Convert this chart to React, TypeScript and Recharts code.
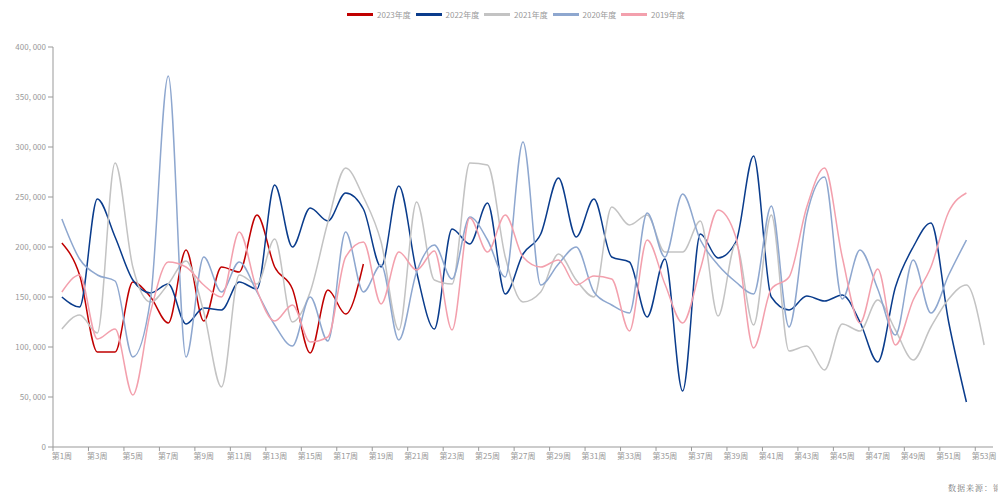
import { LineChart, Line, XAxis, YAxis, Legend } from "recharts";

const weeks = [
  "第1周", "第2周", "第3周", "第4周", "第5周", "第6周", "第7周", "第8周", "第9周", "第10周",
  "第11周", "第12周", "第13周", "第14周", "第15周", "第16周", "第17周", "第18周", "第19周", "第20周",
  "第21周", "第22周", "第23周", "第24周", "第25周", "第26周", "第27周", "第28周", "第29周", "第30周",
  "第31周", "第32周", "第33周", "第34周", "第35周", "第36周", "第37周", "第38周", "第39周", "第40周",
  "第41周", "第42周", "第43周", "第44周", "第45周", "第46周", "第47周", "第48周", "第49周", "第50周",
  "第51周", "第52周", "第53周",
];

const y2023 = [
  204000, 172000, 95000, 95000, 165000, 150000, 124000, 197000, 126000, 180000,
  175000, 232000, 180000, 158000, 94000, 157000, 133000, 183000,
];

const y2022 = [
  150000, 140000, 248000, 210000, 167000, 154000, 163000, 123000, 139000, 137000,
  165000, 158000, 262000, 200000, 239000, 226000, 254000, 238000, 180000, 261000,
  175000, 118000, 218000, 203000, 244000, 153000, 193000, 213000, 269000, 210000,
  248000, 190000, 185000, 130000, 188000, 56000, 213000, 189000, 205000, 291000,
  150000, 137000, 151000, 146000, 152000, 125000, 85000, 160000, 200000, 224000,
  125000, 45000,
];

const y2021 = [
  118000, 132000, 114000, 284000, 180000, 145000, 163000, 186000, 135000, 60000,
  172000, 163000, 208000, 125000, 155000, 225000, 279000, 250000, 205000, 117000,
  245000, 167000, 163000, 284000, 282000, 190000, 145000, 155000, 193000, 167000,
  150000, 240000, 222000, 232000, 195000, 195000, 226000, 131000, 203000, 122000,
  232000, 96000, 101000, 77000, 123000, 116000, 147000, 117000, 87000, 120000,
  148000, 162000, 102000,
];

const y2020 = [
  228000, 188000, 172000, 166000, 90000, 148000, 371000, 90000, 190000, 155000,
  185000, 155000, 122000, 101000, 150000, 106000, 215000, 155000, 182000, 107000,
  175000, 202000, 168000, 230000, 207000, 170000, 305000, 162000, 183000, 200000,
  155000, 142000, 134000, 234000, 190000, 253000, 207000, 182000, 165000, 153000,
  241000, 120000, 232000, 270000, 148000, 197000, 158000, 112000, 187000, 134000,
  172000, 207000,
];

const y2019 = [
  155000, 172000, 108000, 118000, 52000, 135000, 185000, 180000, 162000, 150000,
  215000, 157000, 126000, 142000, 105000, 110000, 190000, 205000, 143000, 195000,
  177000, 196000, 117000, 229000, 195000, 232000, 190000, 180000, 187000, 162000,
  171000, 168000, 116000, 207000, 163000, 124000, 178000, 237000, 210000, 99000,
  158000, 170000, 240000, 279000, 190000, 124000, 178000, 102000, 147000, 180000,
  235000, 254000,
];

const yTicks = [0, 50000, 100000, 150000, 200000, 250000, 300000, 350000, 400000];

const series = [
  { key: "y2023", name: "2023年度", color: "#c00000", values: y2023 },
  { key: "y2022", name: "2022年度", color: "#0a3c8c", values: y2022 },
  { key: "y2021", name: "2021年度", color: "#c3c3c3", values: y2021 },
  { key: "y2020", name: "2020年度", color: "#8ea7cf", values: y2020 },
  { key: "y2019", name: "2019年度", color: "#f3a0ad", values: y2019 },
];

const data = weeks.map((week, i) => {
  const row: Record<string, string | number | undefined> = { week };
  series.forEach((s) => {
    row[s.key] = s.values[i];
  });
  return row;
});

const FONT = '"Noto Sans CJK SC", "Noto Sans", sans-serif';
const AXIS = "#999";
const BAND_HALF = 940 / 53 / 2;

// "400, 000" style labels; non-breaking space so the label stays on one line
const formatValue = (v: number) =>
  v === 0 ? "0" : `${Math.floor(v / 1000)},\u00a0${String(v % 1000).padStart(3, "0")}`;

function WeekTick(props: any) {
  const { x, y, payload } = props;
  return (
    <g>
      <line x1={x - BAND_HALF} y1={y - 7} x2={x - BAND_HALF} y2={y - 3} stroke={AXIS} />
      <text x={x} y={y + 5} textAnchor="middle" fontSize={8} fill="#999" fontFamily={FONT}>
        {payload.value}
      </text>
    </g>
  );
}

function ValueTick(props: any) {
  const { x, y, payload } = props;
  return (
    <text x={x} y={y + 3} textAnchor="end" fontSize={8} fill="#999" fontFamily={FONT}>
      {formatValue(payload.value)}
    </text>
  );
}

function LegendBox() {
  return (
    <div style={{ display: "flex", fontFamily: FONT, fontSize: 8, color: "#999" }}>
      {series.map((s) => (
        <div key={s.key} style={{ display: "flex", alignItems: "center", width: 68.5 }}>
          <span
            style={{ display: "inline-block", width: 26, height: 2.5, background: s.color, marginRight: 4 }}
          />
          <span>{s.name}</span>
        </div>
      ))}
    </div>
  );
}

export default function App() {
  return (
    <div style={{ position: "relative", width: 998, height: 492, overflow: "hidden" }}>
      <style>{`body { margin: 0; }`}</style>
      <LineChart
        width={998}
        height={492}
        data={data}
        margin={{ top: 47, right: 5, bottom: 15, left: 0 }}
      >
        <XAxis
          dataKey="week"
          interval={1}
          padding={{ left: BAND_HALF, right: BAND_HALF }}
          height={30}
          tickSize={5}
          tickMargin={2}
          tickLine={false}
          axisLine={{ stroke: AXIS }}
          tick={<WeekTick />}
        />
        <YAxis
          yAxisId="left"
          width={53}
          domain={[0, 400000]}
          ticks={yTicks}
          tickSize={5}
          tickMargin={2}
          axisLine={{ stroke: AXIS }}
          tickLine={{ stroke: AXIS }}
          tick={<ValueTick />}
        />
        <YAxis
          yAxisId="right"
          orientation="right"
          width={0}
          domain={[0, 400000]}
          tick={false}
          tickLine={false}
          axisLine={{ stroke: AXIS }}
        />
        <Legend
          verticalAlign="middle"
          align="center"
          wrapperStyle={{ top: 9, left: 347, width: 360 }}
          content={() => <LegendBox />}
        />
        {series.map((s) => (
          <Line
            key={s.key}
            yAxisId="left"
            type="monotone"
            dataKey={s.key}
            name={s.name}
            stroke={s.color}
            strokeWidth={1.5}
            dot={false}
            activeDot={false}
            isAnimationActive={false}
          />
        ))}
      </LineChart>
      <div
        style={{
          position: "absolute",
          left: 948,
          top: 482,
          fontSize: 8,
          color: "#777",
          whiteSpace: "nowrap",
          letterSpacing: 1,
          fontFamily: '"Noto Serif CJK SC", "Noto Sans CJK SC", serif',
        }}
      >
        数据来源：钢联
      </div>
    </div>
  );
}
